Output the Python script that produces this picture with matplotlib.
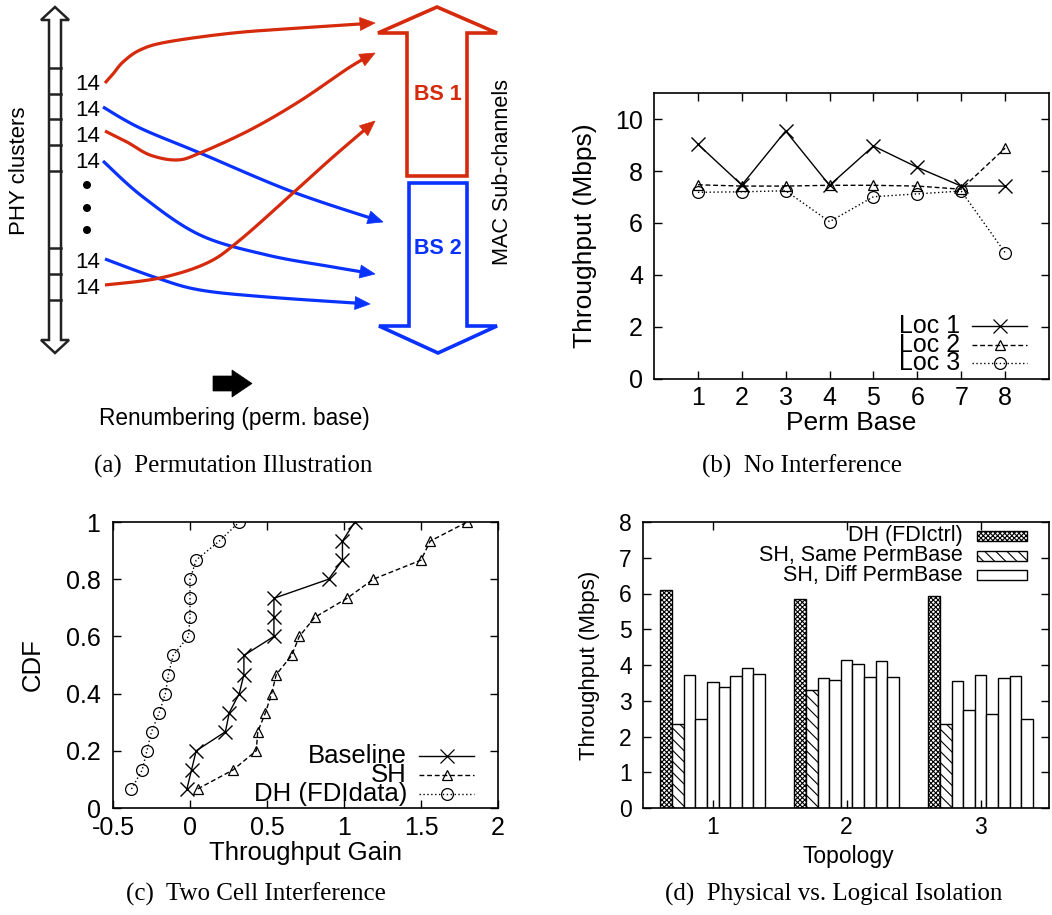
import numpy as np
import matplotlib
matplotlib.use("Agg")
import matplotlib.pyplot as plt
from matplotlib.patches import Polygon, Rectangle, Circle

# ---------------- data ----------------
perm_base = [1, 2, 3, 4, 5, 6, 7, 8]
loc1 = [9.03, 7.46, 9.54, 7.45, 8.96, 8.14, 7.42, 7.42]
loc2 = [7.47, 7.42, 7.42, 7.45, 7.45, 7.42, 7.30, 8.88]
loc3 = [7.18, 7.20, 7.24, 6.05, 7.01, 7.12, 7.23, 4.86]

cdf_levels = [1/15, 2/15, 3/15, 4/15, 5/15, 6/15, 7/15, 8/15, 9/15,
              10/15, 11/15, 12/15, 13/15, 14/15, 1.0]
baseline_gain = [-0.02, 0.01, 0.04, 0.23, 0.255, 0.32, 0.35, 0.35, 0.545,
                 0.545, 0.545, 0.90, 0.99, 0.99, 1.07]
sh_gain = [0.05, 0.28, 0.43, 0.44, 0.49, 0.53, 0.56, 0.66, 0.71, 0.81,
           1.02, 1.19, 1.50, 1.56, 1.80]
dh_gain = [-0.38, -0.31, -0.28, -0.25, -0.20, -0.16, -0.14, -0.11, -0.01,
           0.0, 0.0, 0.0, 0.04, 0.19, 0.32]

topology = [1, 2, 3]
dh_fdictrl = [6.11, 5.84, 5.93]
sh_same_perm = [2.34, 3.30, 2.34]
sh_diff_topo1 = [3.71, 2.49, 3.52, 3.38, 3.68, 3.91, 3.74]
sh_diff_topo2 = [3.63, 3.59, 4.13, 4.04, 3.66, 4.10, 3.66]
sh_diff_topo3 = [3.54, 2.74, 3.73, 2.63, 3.65, 3.68, 2.48]

# ---------------- figure ----------------
W, H = 1052, 915
SANS = "Liberation Sans"
SERIF = "Liberation Serif"
plt.rcParams["font.family"] = SANS
plt.rcParams["hatch.linewidth"] = 0.8

fig = plt.figure(figsize=(W / 100, H / 100), dpi=100)


def rect(l, t, r, b):
    return [l / W, 1 - b / H, (r - l) / W, (b - t) / H]


def style_axes(ax, pad_x, pad_y, fs):
    for s in ax.spines.values():
        s.set_linewidth(1.2)
    ax.tick_params(direction="in", top=True, right=True, length=6, width=1,
                   labelsize=fs)
    ax.tick_params(axis="x", pad=pad_x)
    ax.tick_params(axis="y", pad=pad_y)


LS_DASH = (0, (3.5, 2))
LS_DOT = (0, (1, 1.8))

# ---------------- panel (b) ----------------
axb = fig.add_axes(rect(654, 93, 1049, 379))
axb.plot(perm_base, loc1, color="k", lw=1, ls="-", marker="x", ms=10, mew=1)
axb.plot(perm_base, loc2, color="k", lw=1, ls=LS_DASH, marker="^", ms=7.5,
         mew=0.9, mfc="none")
axb.plot(perm_base, loc3, color="k", lw=1, ls=LS_DOT, marker="o", ms=8.5,
         mew=0.9, mfc="none")
axb.set_xlim(0, 9)
axb.set_ylim(0, 11)
axb.set_xticks(perm_base)
axb.set_yticks([0, 2, 4, 6, 8, 10])
style_axes(axb, 5, 8, 18)
axb.set_xlabel("Perm Base", fontsize=19)
axb.set_ylabel("Throughput (Mbps)", fontsize=19)
axb.xaxis.label.set_va("center")
axb.yaxis.label.set_va("center")
axb.xaxis.set_label_coords(0.50, (379 - 423) / 286)
axb.yaxis.set_label_coords((585 - 654) / 395, 0.5)

# ---------------- panel (c) ----------------
axc = fig.add_axes(rect(113, 522, 498, 808))
axc.plot(baseline_gain, cdf_levels, color="k", lw=1, ls="-", marker="x",
         ms=10, mew=1)
axc.plot(sh_gain, cdf_levels, color="k", lw=1, ls=LS_DASH, marker="^", ms=7.5,
         mew=0.9, mfc="none")
axc.plot(dh_gain, cdf_levels, color="k", lw=1, ls=LS_DOT, marker="o", ms=8.5,
         mew=0.9, mfc="none")
axc.set_xlim(-0.5, 2)
axc.set_ylim(0, 1)
axc.set_xticks([-0.5, 0, 0.5, 1, 1.5, 2])
axc.set_xticklabels(["-0.5", "0", "0.5", "1", "1.5", "2"])
axc.set_yticks([0, 0.2, 0.4, 0.6, 0.8, 1])
axc.set_yticklabels(["0", "0.2", "0.4", "0.6", "0.8", "1"])
style_axes(axc, 6, 9, 18)
axc.set_xlabel("Throughput Gain", fontsize=18.5)
axc.set_ylabel("CDF", fontsize=18.5)
axc.xaxis.label.set_va("center")
axc.yaxis.label.set_va("center")
axc.xaxis.set_label_coords(0.5, (808 - 853) / 286)
axc.yaxis.set_label_coords((33 - 113) / 385, 0.5)

# ---------------- panel (d) ----------------
axd = fig.add_axes(rect(643, 522, 1049, 808))
bw = 0.087
sh_diff_all = [sh_diff_topo1, sh_diff_topo2, sh_diff_topo3]
for g, c in enumerate(topology):
    axd.bar(c - 4 * bw, dh_fdictrl[g], width=bw, facecolor="white",
            edgecolor="k", hatch="xxxxxxx", lw=1)
    axd.bar(c - 3 * bw, sh_same_perm[g], width=bw, facecolor="white",
            edgecolor="k", hatch="\\\\\\", lw=1)
    xs = [c + (i - 2) * bw for i in range(len(sh_diff_all[g]))]
    axd.bar(xs, sh_diff_all[g], width=bw, facecolor="white", edgecolor="k",
            lw=1)
axd.set_xlim(0.48, 3.51)
axd.set_ylim(0, 8)
axd.set_xticks(topology)
axd.set_yticks(range(0, 9))
style_axes(axd, 6, 8, 16.5)
axd.set_xlabel("Topology", fontsize=16.5)
axd.set_ylabel("Throughput (Mbps)", fontsize=16)
axd.xaxis.label.set_va("center")
axd.yaxis.label.set_va("center")
axd.xaxis.set_label_coords((848 - 643) / 406, (808 - 857) / 286)
axd.yaxis.set_label_coords((590 - 643) / 406, 0.5)

# ---------------- overlay (diagram, legends, captions) ----------------
ov = fig.add_axes([0, 0, 1, 1], zorder=5)
ov.set_xlim(0, W)
ov.set_ylim(H, 0)
ov.axis("off")

# legend (b)
leg_b = [("Loc 1", "-", "x", 10), ("Loc 2", LS_DASH, "^", 7.5), ("Loc 3", LS_DOT, "o", 8.5)]
for i, (lab, ls, mk, ms) in enumerate(leg_b):
    y = 326 + i * 18.7
    ov.text(960, y, lab, ha="right", va="center", fontsize=18)
    ov.plot([972, 1027], [y, y], color="k", lw=1, ls=ls)
    ov.plot([1000], [y], color="k", marker=mk, ms=ms, mew=0.9,
            mfc="none" if mk != "x" else "k")

# legend (c)
leg_c = [("Baseline", "-", "x", 10), ("SH", LS_DASH, "^", 7.5), ("DH (FDIdata)", LS_DOT, "o", 8.5)]
for i, (lab, ls, mk, ms) in enumerate(leg_c):
    y = 756 + i * 19
    ov.text(407, y, lab, ha="right", va="center", fontsize=18.5)
    ov.plot([419, 474], [y, y], color="k", lw=1, ls=ls)
    ov.plot([447], [y], color="k", marker=mk, ms=ms, mew=0.9,
            mfc="none" if mk != "x" else "k")

# legend (d)
leg_d = [("DH (FDIctrl)", "xxxxxxx"), ("SH, Same PermBase", "\\\\\\"), ("SH, Diff PermBase", None)]
for i, (lab, hatch) in enumerate(leg_d):
    y = 536 + i * 19.5
    ov.text(963, y, lab, ha="right", va="center", fontsize=15.5)
    ov.add_patch(Rectangle((977, y - 5), 50, 10, facecolor="white",
                           edgecolor="k", lw=1, hatch=hatch))

# captions
cap_kw = dict(ha="center", va="center", fontsize=18, family=SERIF)
ov.text(233, 466, "(a)  Permutation Illustration", **cap_kw)
ov.text(802, 466, "(b)  No Interference", **cap_kw)
ov.text(256, 894, "(c)  Two Cell Interference", **cap_kw)
ov.text(834, 894, "(d)  Physical vs. Logical Isolation", **cap_kw)

# ---------------- panel (a) diagram ----------------
RED = "#d52a0c"
BLUE = "#0a32ff"

# left double arrow (PHY clusters)
phy = [(55, 7), (69, 20), (61, 20), (61, 340), (69, 340), (55, 353),
       (41, 340), (49, 340), (49, 20), (41, 20)]
ov.add_patch(Polygon(phy, closed=True, facecolor="white", edgecolor="#222222",
                     lw=1.8, joinstyle="miter"))
for ty in [68, 94, 119, 145, 171, 248, 274, 300]:
    ov.plot([49, 61], [ty, ty], color="#222222", lw=1.8)

for ty in [84, 110, 136, 162, 263, 289]:
    ov.text(88, ty, "14", ha="center", va="center", fontsize=16)
for ty in [185, 208, 230]:
    ov.add_patch(Circle((87, ty), 3.3, color="k"))

ov.text(20, 171, "PHY clusters", rotation=90, ha="center", va="center",
        fontsize=16)
ov.text(503, 172, "MAC Sub-channels", rotation=90, ha="center", va="center",
        fontsize=15.6)
ov.text(234, 418, "Renumbering (perm. base)", ha="center", va="center",
        fontsize=16.3)

# BS1 up arrow
bs1 = [(378, 33), (437, 7), (497, 33), (467, 33), (467, 176), (407, 176),
       (407, 33)]
ov.add_patch(Polygon(bs1, closed=True, facecolor="none", edgecolor=RED,
                     lw=2.6, joinstyle="miter"))
# BS2 down arrow
bs2 = [(409, 183), (467, 183), (467, 326), (497, 326), (438, 353),
       (379, 326), (409, 326)]
ov.add_patch(Polygon(bs2, closed=True, facecolor="none", edgecolor=BLUE,
                     lw=2.6, joinstyle="miter"))
ov.text(438, 94, "BS 1", ha="center", va="center", fontsize=15.5,
        fontweight="bold", color=RED)
ov.text(438, 248, "BS 2", ha="center", va="center", fontsize=15.5,
        fontweight="bold", color=BLUE)

# black block arrow
blk = [(213, 376), (232, 376), (232, 370), (252, 383.5), (232, 397),
       (232, 391), (213, 391)]
ov.add_patch(Polygon(blk, closed=True, facecolor="k", edgecolor="k", lw=0.5))


def catmull(pts, n=20):
    p = np.array(pts, dtype=float)
    p = np.vstack([p[0], p, p[-1]])
    out = []
    for i in range(1, len(p) - 2):
        p0, p1, p2, p3 = p[i - 1], p[i], p[i + 1], p[i + 2]
        t = np.linspace(0, 1, n, endpoint=False)[:, None]
        out.append(0.5 * ((2 * p1) + (-p0 + p2) * t +
                          (2 * p0 - 5 * p1 + 4 * p2 - p3) * t ** 2 +
                          (-p0 + 3 * p1 - 3 * p2 + p3) * t ** 3))
    out.append(p[-2][None, :])
    return np.vstack(out)


def curve_arrow(pts, color):
    c = catmull(pts)
    tip = c[-1]
    d = c[-1] - c[-4]
    d = d / np.hypot(*d)
    nrm = np.array([-d[1], d[0]])
    L, Wd = 15, 6.5
    base = tip - L * d
    keep = np.array([np.dot(q - base, d) < 0 for q in c])
    line = np.vstack([c[keep], base + 2 * d])
    ov.plot(line[:, 0], line[:, 1], color=color, lw=2.3,
            solid_capstyle="butt")
    ov.add_patch(Polygon([tip, base + Wd * nrm, base - Wd * nrm],
                         closed=True, facecolor=color, edgecolor=color, lw=0.5))


red1 = [(105, 83), (113, 74), (123, 62), (140, 50), (167, 42), (233, 33),
        (300, 28), (375, 23)]
red2 = [(105, 131), (127, 142), (150, 155), (177, 160), (200, 153),
        (250, 130), (300, 101), (350, 67), (375, 53)]
red3 = [(105, 285), (160, 278), (207, 263), (240, 240), (293, 193),
        (333, 157), (375, 121)]
blue1 = [(103, 107), (140, 128), (200, 153), (293, 192), (383, 222)]
blue2 = [(103, 161), (143, 197), (200, 235), (267, 255), (333, 267),
         (375, 274)]
blue3 = [(105, 259), (157, 278), (200, 290), (267, 297), (370, 304)]

for pts in [blue1, blue2, blue3]:
    curve_arrow(pts, BLUE)
for pts in [red1, red2, red3]:
    curve_arrow(pts, RED)

fig.savefig("out.png", dpi=100)
